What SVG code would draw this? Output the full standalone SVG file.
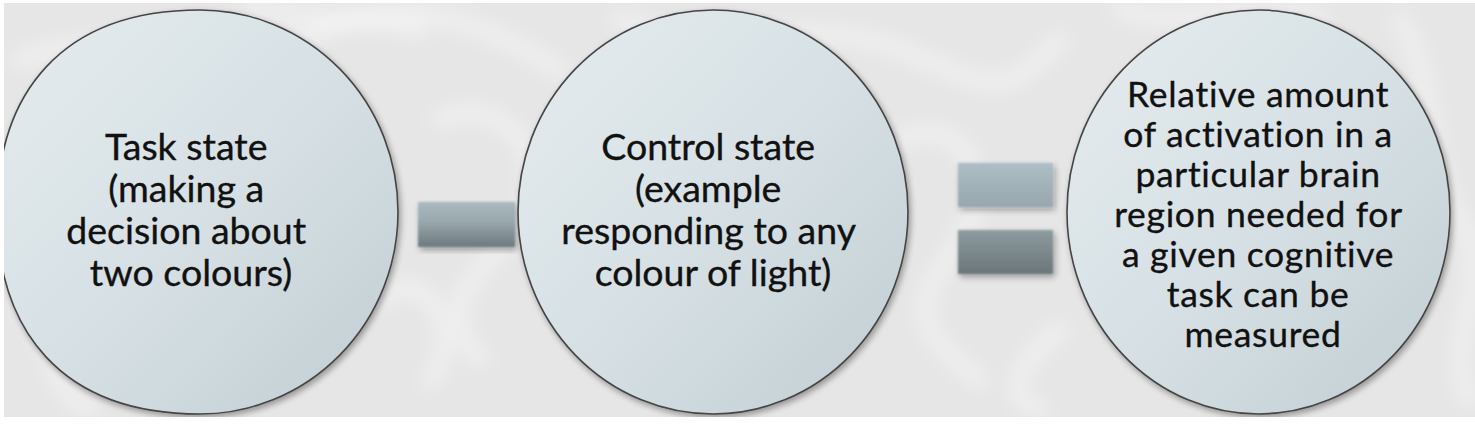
<svg xmlns="http://www.w3.org/2000/svg" width="1475" height="425" viewBox="0 0 1475 425">
  <defs>
    <linearGradient id="circFill" x1="0" y1="0" x2="1" y2="1">
      <stop offset="0" stop-color="#e5ecef"/>
      <stop offset="0.55" stop-color="#d5dfe3"/>
      <stop offset="1" stop-color="#c0cdd2"/>
    </linearGradient>
    <linearGradient id="minusFill" x1="0" y1="0" x2="0" y2="1">
      <stop offset="0" stop-color="#abbac0"/>
      <stop offset="0.45" stop-color="#98a7ac"/>
      <stop offset="1" stop-color="#6d797d"/>
    </linearGradient>
    <linearGradient id="eqTopFill" x1="0" y1="0" x2="0" y2="1">
      <stop offset="0" stop-color="#adbec4"/>
      <stop offset="1" stop-color="#97a7ad"/>
    </linearGradient>
    <linearGradient id="eqBotFill" x1="0" y1="0" x2="0" y2="1">
      <stop offset="0" stop-color="#8e9b9f"/>
      <stop offset="1" stop-color="#6a7679"/>
    </linearGradient>
    <filter id="shadow" x="-10%" y="-10%" width="125%" height="125%">
      <feGaussianBlur in="SourceAlpha" stdDeviation="3"/>
      <feOffset dx="2" dy="3" result="b"/>
      <feComponentTransfer><feFuncA type="linear" slope="0.35"/></feComponentTransfer>
      <feMerge><feMergeNode/><feMergeNode in="SourceGraphic"/></feMerge>
    </filter>
    <filter id="soft" x="-20%" y="-30%" width="140%" height="160%">
      <feGaussianBlur in="SourceGraphic" stdDeviation="1.2"/>
    </filter>
    <filter id="bgblur" x="-5%" y="-5%" width="110%" height="110%">
      <feGaussianBlur stdDeviation="9"/>
    </filter>
    <style>
      .node { fill: url(#circFill); stroke: #454545; stroke-width: 1.6; }
      .lbl { font-family: Lato, "Open Sans", "Liberation Sans", sans-serif; font-size: 37.5px; fill: #111; stroke: #111; stroke-width: 0.35; text-anchor: middle; }
      .lbl3 { font-size: 35.5px; letter-spacing: 0.7px; }
      .swirl { fill: none; stroke: #ffffff; stroke-opacity: 0.4; stroke-width: 16; stroke-linecap: round; }
    </style>
  </defs>

  <!-- background -->
  <rect x="0" y="0" width="1475" height="425" fill="#ffffff"/>
  <rect x="4" y="3" width="1471" height="414" fill="#e6e6e6"/>
  <g filter="url(#bgblur)">
    <path class="swirl" d="M20,60 C120,20 200,90 300,40 S480,20 560,70"/>
    <path class="swirl" d="M440,120 C500,90 560,160 520,220 S430,300 480,360"/>
    <path class="swirl" d="M380,300 C420,260 470,330 430,380"/>
    <path class="swirl" d="M620,20 C700,60 800,10 900,50 S1000,100 1060,40"/>
    <path class="swirl" d="M900,140 C960,110 1000,180 960,240 S900,320 980,380"/>
    <path class="swirl" d="M1060,330 C1020,360 1000,400 1040,410"/>
    <path class="swirl" d="M1400,20 C1440,80 1420,160 1460,220 S1440,340 1470,400"/>
    <path class="swirl" d="M20,300 C60,340 40,380 90,410"/>
    <path class="swirl" d="M250,0 C300,30 360,10 420,30"/>
    <path class="swirl" d="M1120,10 C1180,30 1240,0 1320,20"/>
  </g>

  <!-- connectors (operators) -->
  <g id="connectors">
    <g id="minus" filter="url(#shadow)">
      <rect x="418" y="202" width="97" height="45" fill="url(#minusFill)" filter="url(#soft)"/>
    </g>
    <g id="equals" filter="url(#shadow)">
      <rect x="958" y="163" width="95" height="44" fill="url(#eqTopFill)" filter="url(#soft)"/>
      <rect x="958" y="230" width="95" height="44" fill="url(#eqBotFill)" filter="url(#soft)"/>
    </g>
  </g>

  <!-- node 1 -->
  <g id="task-state">
    <path class="node" filter="url(#shadow)" d="M200,10 A198,202 0 0 1 398,212 A198,202 0 0 1 200,414 C60,414 -3,329 -3,212 C-3,95 60,10 200,10 Z"/>
    <text class="lbl">
      <tspan x="191" y="160">Task state</tspan>
      <tspan x="191" y="202">(making a</tspan>
      <tspan x="191" y="244">decision about</tspan>
      <tspan x="191" y="286">two colours)</tspan>
    </text>
  </g>

  <!-- node 2 -->
  <g id="control-state">
    <ellipse class="node" filter="url(#shadow)" cx="713" cy="212" rx="195" ry="202"/>
    <text class="lbl">
      <tspan x="713" y="160">Control state</tspan>
      <tspan x="713" y="202">(example</tspan>
      <tspan x="713" y="244">responding to any</tspan>
      <tspan x="713" y="286">colour of light)</tspan>
    </text>
  </g>

  <!-- node 3 -->
  <g id="result">
    <ellipse class="node" filter="url(#shadow)" cx="1258.5" cy="212" rx="191.5" ry="202"/>
    <text class="lbl lbl3">
      <tspan x="1263" y="107">Relative amount</tspan>
      <tspan x="1263" y="147">of activation in a</tspan>
      <tspan x="1263" y="187">particular brain</tspan>
      <tspan x="1263" y="227">region needed for</tspan>
      <tspan x="1263" y="267">a given cognitive</tspan>
      <tspan x="1263" y="307">task can be</tspan>
      <tspan x="1263" y="347">measured</tspan>
    </text>
  </g>

  <!-- white margins -->
  <rect x="0" y="0" width="4" height="425" fill="#ffffff"/>
  <rect x="0" y="417" width="1475" height="8" fill="#ffffff"/>
</svg>
